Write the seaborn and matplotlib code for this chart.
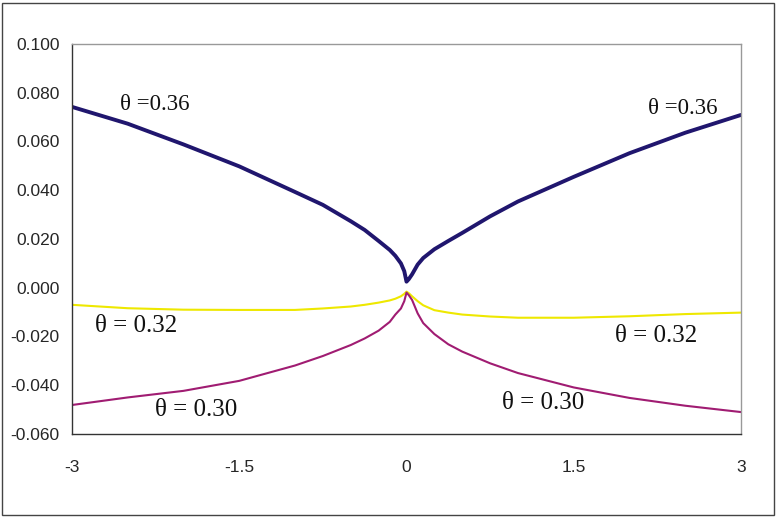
import matplotlib
matplotlib.use("Agg")
import matplotlib.pyplot as plt
import seaborn as sns
import pandas as pd
from matplotlib.patches import Rectangle

# ---- data ----
x_vals = [-3.0, -2.5, -2.0, -1.5, -1.0, -0.75, -0.5, -0.375, -0.25, -0.15, -0.1, -0.05, -0.02, 0.0,
          0.02, 0.05, 0.1, 0.15, 0.25, 0.375, 0.5, 0.75, 1.0, 1.5, 2.0, 2.5, 3.0]
theta_036 = [0.0742, 0.0673, 0.0588, 0.0498, 0.0393, 0.0340, 0.0273, 0.0237, 0.0192, 0.0155, 0.0131, 0.0100, 0.0068, 0.0025,
             0.0035, 0.0055, 0.0095, 0.0122, 0.0158, 0.0192, 0.0225, 0.0293, 0.0354, 0.0455, 0.0552, 0.0636, 0.0709]
theta_032 = [-0.0070, -0.0084, -0.0090, -0.0091, -0.0091, -0.0085, -0.0077, -0.0070, -0.0061, -0.0052, -0.0045, -0.0035, -0.0025, -0.0016,
             -0.0022, -0.0035, -0.0055, -0.0072, -0.0092, -0.0102, -0.0110, -0.0118, -0.0123, -0.0123, -0.0117, -0.0108, -0.0102]
theta_030 = [-0.0481, -0.0450, -0.0423, -0.0382, -0.0319, -0.0280, -0.0235, -0.0208, -0.0176, -0.0140, -0.0110, -0.0085, -0.0055, -0.0020,
             -0.0030, -0.0050, -0.0105, -0.0145, -0.0190, -0.0232, -0.0262, -0.0310, -0.0350, -0.0409, -0.0452, -0.0484, -0.0510]
x_ticks = [-3, -1.5, 0, 1.5, 3]
x_tick_labels = ["-3", "-1.5", "0", "1.5", "3"]
y_ticks = [0.100, 0.080, 0.060, 0.040, 0.020, 0.000, -0.020, -0.040, -0.060]
y_tick_labels = ["0.100", "0.080", "0.060", "0.040", "0.020", "0.000", "-0.020", "-0.040", "-0.060"]
label_036 = "θ =0.36"
label_032 = "θ = 0.32"
label_030 = "θ = 0.30"

sns.set_style("white")
plt.rcParams['font.family'] = ['Liberation Sans', 'DejaVu Sans']

fig = plt.figure(figsize=(7.77, 5.18), dpi=100)
ax = fig.add_axes([72/777, 1-434/518, (741-72)/777, (434-44)/518])

df = pd.DataFrame({"x": x_vals, "t036": theta_036, "t032": theta_032, "t030": theta_030})
sns.lineplot(data=df, x="x", y="t032", ax=ax, color="#EEE800", linewidth=1.5, sort=False)
sns.lineplot(data=df, x="x", y="t030", ax=ax, color="#A01C72", linewidth=1.5, sort=False)
sns.lineplot(data=df, x="x", y="t036", ax=ax, color="#20166E", linewidth=2.8, sort=False)

ax.set_xlim(-3, 3)
ax.set_ylim(-0.060, 0.100)
ax.set_xticks(x_ticks)
ax.set_xticklabels(x_tick_labels, fontsize=12.5)
ax.set_yticks(y_ticks)
ax.set_yticklabels(y_tick_labels, fontsize=12.5)
ax.set_xlabel("")
ax.set_ylabel("")
ax.tick_params(axis='x', length=0, pad=19)
ax.tick_params(axis='y', length=3, pad=6, direction='out', color='#333333')
ax.grid(False)

for side in ["left", "bottom"]:
    ax.spines[side].set_color("#333333")
    ax.spines[side].set_linewidth(1.0)
for side in ["top", "right"]:
    ax.spines[side].set_color("#999999")
    ax.spines[side].set_linewidth(1.0)

serif = ['Liberation Serif', 'DejaVu Serif']
ax.text(-2.255, 0.0750, label_036, fontsize=16.5, family=serif, ha='center', va='center', color='#111111')
ax.text(2.48, 0.0737, label_036, fontsize=16.5, family=serif, ha='center', va='center', color='#111111')
ax.text(-2.426, -0.0157, label_032, fontsize=18, family=serif, ha='center', va='center', color='#111111')
ax.text(2.24, -0.0198, label_032, fontsize=18, family=serif, ha='center', va='center', color='#111111')
ax.text(-1.888, -0.0502, label_030, fontsize=18, family=serif, ha='center', va='center', color='#111111')
ax.text(1.224, -0.0473, label_030, fontsize=18, family=serif, ha='center', va='center', color='#111111')

fig.patches.append(Rectangle((2/777, 3/518), 772/777, 512/518, transform=fig.transFigure,
                             fill=False, edgecolor='#444444', linewidth=1.0))

fig.savefig("out.png", dpi=100)
